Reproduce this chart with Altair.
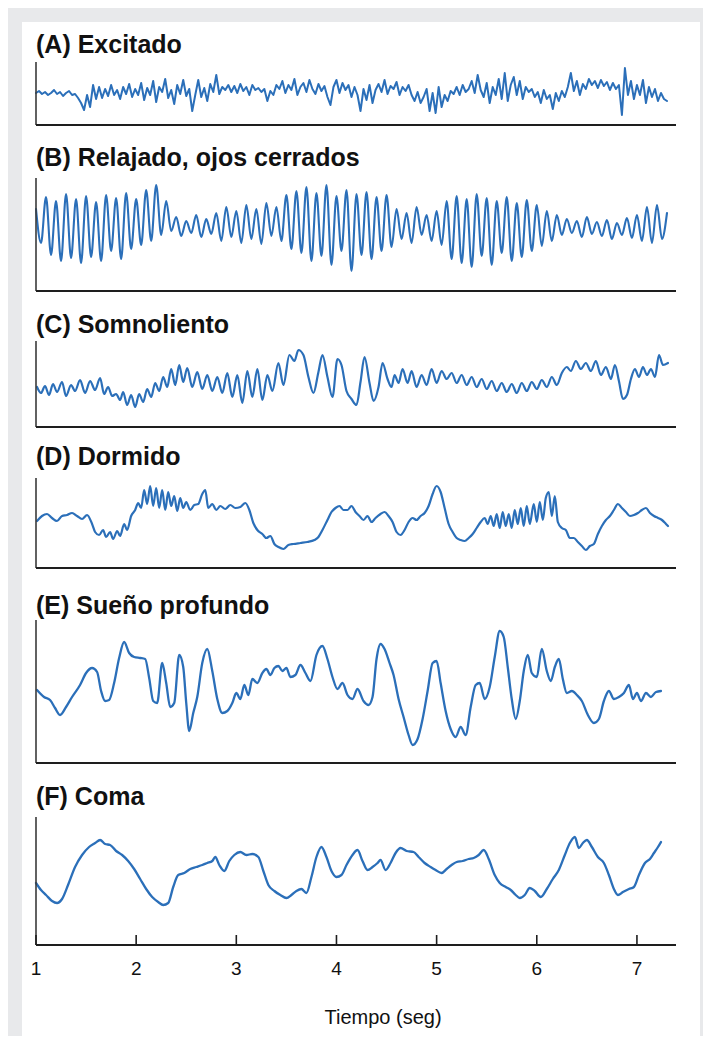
import altair as alt
import pandas as pd

# ---------------- data ----------------
TITLES = ["(A) Excitado", "(B) Relajado, ojos cerrados", "(C) Somnoliento",
          "(D) Dormido", "(E) Sueño profundo", "(F) Coma"]
TICKS = [1, 2, 3, 4, 5, 6, 7]
X_LABEL = "Tiempo (seg)"
AXIS_START = 1.0
AXIS_END = 7.39

# (A) Excitado
A_T = [1.00, 1.03, 1.06, 1.09, 1.12, 1.15, 1.18, 1.21, 1.24, 1.27,
       1.30, 1.33, 1.36, 1.39, 1.42, 1.45, 1.48, 1.51, 1.54, 1.57,
       1.60, 1.63, 1.66, 1.69, 1.72, 1.75, 1.78, 1.81, 1.84, 1.87,
       1.90, 1.93, 1.96, 1.99, 2.02, 2.05, 2.08, 2.11, 2.14, 2.17,
       2.20, 2.23, 2.26, 2.29, 2.32, 2.35, 2.38, 2.41, 2.44, 2.47,
       2.50, 2.53, 2.56, 2.59, 2.62, 2.65, 2.68, 2.71, 2.74, 2.77,
       2.80, 2.83, 2.86, 2.89, 2.92, 2.95, 2.98, 3.01, 3.04, 3.07,
       3.10, 3.13, 3.16, 3.19, 3.22, 3.25, 3.28, 3.31, 3.34, 3.37,
       3.40, 3.43, 3.46, 3.49, 3.52, 3.55, 3.58, 3.61, 3.64, 3.67,
       3.70, 3.73, 3.76, 3.79, 3.82, 3.85, 3.88, 3.91, 3.94, 3.97,
       4.00, 4.03, 4.06, 4.09, 4.12, 4.15, 4.18, 4.21, 4.24, 4.27,
       4.30, 4.33, 4.36, 4.39, 4.42, 4.45, 4.48, 4.51, 4.54, 4.57,
       4.60, 4.63, 4.66, 4.69, 4.72, 4.75, 4.78, 4.81, 4.84, 4.87,
       4.90, 4.93, 4.96, 4.99, 5.02, 5.05, 5.08, 5.11, 5.14, 5.17,
       5.20, 5.23, 5.26, 5.29, 5.32, 5.35, 5.38, 5.41, 5.44, 5.47,
       5.50, 5.53, 5.56, 5.59, 5.62, 5.65, 5.68, 5.71, 5.74, 5.77,
       5.80, 5.83, 5.86, 5.89, 5.92, 5.95, 5.98, 6.01, 6.04, 6.07,
       6.10, 6.13, 6.16, 6.19, 6.22, 6.25, 6.28, 6.31, 6.34, 6.37,
       6.40, 6.43, 6.46, 6.49, 6.52, 6.55, 6.58, 6.61, 6.64, 6.67,
       6.70, 6.73, 6.76, 6.79, 6.82, 6.85, 6.88, 6.91, 6.94, 6.97,
       7.00, 7.03, 7.06, 7.09, 7.12, 7.15, 7.18, 7.21, 7.24, 7.27,
       7.30]
A_V = [32, 34, 31, 33, 30, 32, 35, 31, 33, 29, 32, 34, 30, 31, 27,
       22, 15, 30, 18, 40, 26,
       38, 27, 36, 29, 40, 30, 35, 26, 38, 31, 41, 28, 36, 30,
       42, 25, 37, 30, 44, 23, 38, 33, 46, 27, 35, 21, 40, 31, 45, 29,
       36, 14, 30, 45, 28, 37, 24, 41, 33, 50, 31, 38, 35, 40,
       33, 39, 32, 41, 34, 38, 30, 40, 35, 37, 33,
       36, 24, 34, 30, 40, 36,
       44, 32, 40, 35, 46, 30, 38, 42, 33, 45, 36, 31, 41, 34, 39, 28,
       20, 38, 45, 32, 42, 35, 40, 28, 38,
       30, 14, 36, 25, 40, 22, 35,
       41, 33, 45, 31, 39, 36, 43, 30, 38, 34, 40,
       30, 24, 33, 22, 28,
       36, 14, 32, 12, 38, 18, 30, 24,
       34, 31, 38, 30, 40, 33, 36, 44, 32, 50, 35,
       28, 42, 22, 38, 30, 46, 26, 52, 24, 40, 48, 30, 44, 26, 38, 33,
       36, 28, 33, 22, 35, 26, 30, 16, 32, 24, 34, 28, 38,
       52, 34, 44, 30, 41, 36, 46,
       40, 44, 37, 45, 39, 43, 35, 42, 36, 40,
       10, 57, 30, 44,
       26, 40, 30, 45, 22, 38, 28, 36, 24,
       32, 26, 24]

# (B) Relajado, ojos cerrados
B_T = [1.00, 1.05, 1.10, 1.15, 1.20, 1.25, 1.30, 1.35, 1.40, 1.45,
       1.50, 1.55, 1.60, 1.65, 1.70, 1.75, 1.80, 1.85, 1.90, 1.95,
       2.00, 2.05, 2.10, 2.15, 2.20, 2.25, 2.30, 2.35, 2.40, 2.45,
       2.50, 2.55, 2.60, 2.65, 2.70, 2.75, 2.80, 2.85, 2.90, 2.95,
       3.00, 3.05, 3.10, 3.15, 3.20, 3.25, 3.30, 3.35, 3.40, 3.45,
       3.50, 3.55, 3.60, 3.65, 3.70, 3.75, 3.80, 3.85, 3.90, 3.95,
       4.00, 4.05, 4.10, 4.15, 4.20, 4.25, 4.30, 4.35, 4.40, 4.45,
       4.50, 4.55, 4.60, 4.65, 4.70, 4.75, 4.80, 4.85, 4.90, 4.95,
       5.00, 5.05, 5.10, 5.15, 5.20, 5.25, 5.30, 5.35, 5.40, 5.45,
       5.50, 5.55, 5.60, 5.65, 5.70, 5.75, 5.80, 5.85, 5.90, 5.95,
       6.00, 6.05, 6.10, 6.15, 6.20, 6.25, 6.30, 6.35, 6.40, 6.45,
       6.50, 6.55, 6.60, 6.65, 6.70, 6.75, 6.80, 6.85, 6.90, 6.95,
       7.00, 7.05, 7.10, 7.15, 7.20, 7.25, 7.30]
B_V = [82, 48, 94, 36, 90, 30, 97, 33, 92, 28, 95, 34, 89, 30, 96, 40, 93, 32, 98, 42, 92,
       46, 101, 50, 106, 56, 90,
       60, 74, 55, 70, 58, 76, 54, 72, 57, 78,
       50, 84, 54, 80, 48, 86, 52, 82, 47, 88, 55, 84, 50,
       96, 42, 100, 38, 104, 30, 98, 35, 106, 26, 95, 40, 101, 20, 97, 36, 99, 32, 94, 40, 96, 44,
       82, 52, 78, 48, 84, 56, 76, 50, 80, 46,
       90, 32, 95, 28, 92, 24, 97, 35, 93, 26, 90, 38, 94, 30, 88, 34, 91, 40, 86,
       45, 80, 50, 76,
       56, 72, 58, 70, 54, 74, 57, 69, 55, 71, 52, 68, 56, 73, 53, 76, 50,
       84, 48, 86, 52, 78]

# (C) Somnoliento
C_T = [1.01, 1.05, 1.09, 1.13, 1.17, 1.21, 1.26, 1.30, 1.35, 1.39, 1.44, 1.49, 1.54, 1.59,
       1.64, 1.68, 1.72, 1.76, 1.80, 1.84, 1.87, 1.91, 1.95, 1.99, 2.03, 2.07, 2.11, 2.15,
       2.19, 2.23, 2.27, 2.31, 2.35, 2.39, 2.43, 2.47, 2.51, 2.56, 2.61, 2.66, 2.71, 2.76,
       2.81, 2.86, 2.91, 2.96, 3.01, 3.06, 3.11, 3.16, 3.21, 3.26, 3.31, 3.36, 3.42, 3.47,
       3.53, 3.58, 3.62, 3.67, 3.72, 3.77, 3.82, 3.86, 3.91, 3.96, 4.01, 4.05, 4.10, 4.15,
       4.20, 4.24, 4.28, 4.33, 4.37, 4.42, 4.46, 4.51, 4.55, 4.58, 4.62, 4.66, 4.71, 4.75,
       4.80, 4.85, 4.90, 4.95, 5.00, 5.05, 5.10, 5.15, 5.20, 5.25, 5.30, 5.35, 5.40, 5.45,
       5.50, 5.55, 5.60, 5.65, 5.70, 5.75, 5.80, 5.85, 5.90, 5.95, 6.00, 6.05, 6.10, 6.15,
       6.20, 6.25, 6.30, 6.34, 6.39, 6.44, 6.49, 6.54, 6.59, 6.64, 6.69, 6.74, 6.78, 6.82,
       6.86, 6.90, 6.94, 6.98, 7.02, 7.06, 7.10, 7.14, 7.18, 7.22, 7.26, 7.31]
C_V = [40, 34, 41, 32, 43, 35, 45, 31, 42, 36, 47, 34, 46, 37,
       49, 33, 40, 31, 33, 27, 35, 22, 32, 20, 33, 25, 38, 30,
       44, 36, 50, 40, 58, 42, 62, 45, 59, 40, 55, 38, 52, 36,
       50, 34, 54, 30, 52, 24, 56, 30, 58, 27, 52, 36, 64, 42,
       72, 66, 77, 72, 50, 34, 55, 72, 50, 30, 68, 62, 36, 28,
       22, 45, 70, 44, 26, 40, 64, 48, 40, 52, 44, 58, 44, 56,
       40, 52, 42, 58, 44, 56, 48, 54, 44, 52, 42, 50, 40, 48,
       38, 46, 36, 44, 35, 43, 34, 44, 36, 45, 38, 47, 40, 50,
       42, 54, 60, 56, 66, 58, 64, 56, 66, 52, 60, 48, 62, 46,
       28, 32, 48, 58, 50, 60, 52, 58, 50, 72, 62, 64]

# (D) Dormido
D_T = [1.01, 1.06, 1.11, 1.16, 1.21, 1.26, 1.31, 1.36, 1.41, 1.46, 1.51, 1.56, 1.59, 1.63,
       1.67, 1.70, 1.74, 1.77, 1.81, 1.84, 1.88, 1.91, 1.95, 1.99, 2.02, 2.05, 2.08, 2.11,
       2.14, 2.17, 2.20, 2.23, 2.26, 2.29, 2.32, 2.35, 2.38, 2.41, 2.44, 2.47, 2.50, 2.54,
       2.58, 2.62, 2.66, 2.69, 2.72, 2.76, 2.80, 2.84, 2.89, 2.94, 2.99, 3.04, 3.09, 3.13,
       3.17, 3.21, 3.26, 3.30, 3.34, 3.38, 3.42, 3.47, 3.52, 3.57, 3.64, 3.71, 3.78, 3.82,
       3.86, 3.91, 3.95, 3.99, 4.03, 4.07, 4.11, 4.15, 4.19, 4.23, 4.27, 4.31, 4.35, 4.39,
       4.44, 4.48, 4.52, 4.56, 4.60, 4.64, 4.68, 4.72, 4.76, 4.80, 4.84, 4.88, 4.92, 4.96,
       5.00, 5.04, 5.08, 5.12, 5.16, 5.20, 5.24, 5.28, 5.32, 5.36, 5.40, 5.44, 5.48, 5.51,
       5.54, 5.57, 5.60, 5.63, 5.66, 5.69, 5.72, 5.75, 5.78, 5.81, 5.84, 5.87, 5.90, 5.93,
       5.97, 6.00, 6.03, 6.06, 6.09, 6.12, 6.15, 6.18, 6.21, 6.25, 6.29, 6.33, 6.37, 6.41,
       6.45, 6.49, 6.53, 6.57, 6.61, 6.65, 6.69, 6.73, 6.77, 6.81, 6.85, 6.89, 6.93, 6.97,
       7.01, 7.05, 7.09, 7.13, 7.17, 7.21, 7.25, 7.29, 7.31]
D_V = [47, 52, 54, 50, 47, 52, 53, 55, 52, 49, 53, 44, 36, 33,
       38, 31, 36, 29, 37, 32, 44, 38, 52, 58, 65, 60, 78, 64,
       82, 62, 80, 60, 78, 58, 76, 62, 72, 57, 70, 60, 66, 58,
       63, 64, 74, 78, 60, 64, 58, 62, 59, 63, 60, 61, 65, 58,
       45, 38, 34, 30, 32, 24, 21, 19, 23, 24, 25, 26, 28, 31,
       38, 48, 56, 60, 62, 58, 58, 62, 56, 52, 48, 52, 46, 50,
       54, 56, 52, 46, 36, 33, 38, 46, 50, 48, 52, 55, 62, 74,
       82, 76, 60, 44, 36, 30, 28, 27, 30, 34, 40, 46, 50, 44,
       52, 42, 54, 40, 56, 42, 54, 40, 58, 44, 60, 42, 62, 44,
       64, 46, 66, 48, 70, 76, 52, 72, 46, 40, 38, 30, 30, 26,
       22, 18, 22, 24, 34, 42, 48, 52, 58, 64, 60, 56, 52, 53,
       55, 58, 60, 55, 52, 50, 48, 44, 42]

# (E) Sueño profundo
E_T = [1.01, 1.08, 1.14, 1.19, 1.24, 1.30, 1.36, 1.44, 1.50, 1.56, 1.61, 1.65, 1.69, 1.73,
       1.78, 1.83, 1.88, 1.93, 1.98, 2.04, 2.09, 2.13, 2.17, 2.21, 2.26, 2.30, 2.34, 2.38,
       2.43, 2.47, 2.50, 2.53, 2.57, 2.61, 2.66, 2.71, 2.76, 2.81, 2.86, 2.91, 2.96, 3.00,
       3.04, 3.08, 3.12, 3.16, 3.21, 3.26, 3.30, 3.34, 3.38, 3.42, 3.46, 3.50, 3.54, 3.59,
       3.64, 3.69, 3.74, 3.80, 3.86, 3.91, 3.96, 4.01, 4.06, 4.11, 4.16, 4.21, 4.27, 4.32,
       4.36, 4.40, 4.44, 4.48, 4.53, 4.57, 4.62, 4.67, 4.72, 4.76, 4.81, 4.86, 4.91, 4.96,
       5.00, 5.04, 5.09, 5.14, 5.19, 5.24, 5.29, 5.34, 5.39, 5.43, 5.48, 5.53, 5.58, 5.63,
       5.67, 5.71, 5.75, 5.79, 5.83, 5.87, 5.91, 5.95, 6.00, 6.05, 6.10, 6.14, 6.18, 6.22,
       6.26, 6.30, 6.35, 6.40, 6.45, 6.51, 6.57, 6.62, 6.67, 6.72, 6.77, 6.82, 6.87, 6.92,
       6.96, 7.00, 7.04, 7.09, 7.14, 7.19, 7.24]
E_V = [73, 66, 63, 55, 48, 56, 66, 78, 90, 95, 91, 72, 62, 63,
       80, 105, 121, 110, 106, 105, 104, 85, 62, 60, 100, 80, 56, 60,
       108, 96, 60, 32, 50, 66, 100, 114, 92, 64, 50, 52, 60, 70,
       64, 78, 68, 84, 80, 90, 94, 88, 95, 97, 92, 95, 86, 88,
       98, 90, 82, 108, 117, 104, 86, 74, 80, 68, 64, 74, 62, 58,
       66, 104, 119, 114, 100, 88, 64, 46, 28, 18, 24, 44, 72, 100,
       102, 80, 52, 34, 26, 36, 28, 56, 78, 80, 64, 76, 106, 132,
       126, 96, 64, 44, 62, 92, 108, 90, 86, 114, 92, 82, 96, 104,
       84, 70, 72, 68, 62, 48, 40, 44, 62, 72, 64, 66, 70, 78,
       64, 70, 62, 70, 66, 71, 72]

# (F) Coma
F_T = [1.00, 1.05, 1.10, 1.16, 1.21, 1.26, 1.32, 1.39, 1.46, 1.53, 1.59, 1.64, 1.69, 1.74,
       1.80, 1.86, 1.92, 1.98, 2.04, 2.10, 2.16, 2.22, 2.27, 2.32, 2.37, 2.42, 2.48, 2.54,
       2.60, 2.66, 2.71, 2.76, 2.79, 2.83, 2.88, 2.93, 2.98, 3.04, 3.10, 3.16, 3.22, 3.27,
       3.32, 3.38, 3.44, 3.50, 3.55, 3.60, 3.65, 3.70, 3.75, 3.80, 3.85, 3.90, 3.95, 4.00,
       4.05, 4.10, 4.16, 4.21, 4.26, 4.31, 4.36, 4.41, 4.44, 4.49, 4.54, 4.59, 4.64, 4.70,
       4.77, 4.82, 4.88, 4.94, 4.99, 5.05, 5.10, 5.15, 5.20, 5.26, 5.32, 5.37, 5.42, 5.47,
       5.52, 5.58, 5.63, 5.69, 5.74, 5.79, 5.83, 5.88, 5.93, 5.98, 6.04, 6.10, 6.16, 6.22,
       6.28, 6.33, 6.38, 6.42, 6.46, 6.50, 6.55, 6.61, 6.67, 6.72, 6.77, 6.81, 6.86, 6.92,
       6.97, 7.02, 7.08, 7.13, 7.17, 7.21, 7.24]
F_V = [62, 55, 50, 44, 42, 46, 60, 78, 90, 98, 102, 105, 101, 100,
       94, 90, 84, 76, 66, 56, 48, 43, 40, 42, 58, 70, 72, 76,
       78, 80, 82, 84, 88, 80, 74, 84, 90, 93, 90, 91, 88, 74,
       60, 54, 50, 47, 50, 54, 56, 52, 68, 88, 98, 88, 74, 68,
       70, 80, 90, 95, 84, 75, 78, 82, 85, 75, 82, 92, 97, 94,
       93, 88, 82, 78, 75, 72, 76, 80, 83, 84, 86, 87, 90, 95,
       86, 70, 62, 58, 55, 50, 47, 50, 57, 54, 48, 56, 66, 75,
       90, 102, 108, 97, 102, 105, 98, 88, 82, 70, 56, 50, 53, 56,
       58, 70, 82, 86, 92, 98, 103]

# ---------------- layout / styles (view pixels) ----------------
VIEW_W, VIEW_H = 678, 1014
# (bottom px, top px) of each panel's y axis, and the title's vertical centre
LAYOUT = [(103, 40, 23), (269, 156, 136), (405, 319, 303),
          (546, 456, 435), (741, 598, 584), (923, 795, 775)]
TRACE_COLOR = "#2b6fb9"
AXIS_COLOR = "#1e1e1e"
FONT = "Liberation Sans"

XS = alt.Scale(domain=[AXIS_START, AXIS_END], range=[14, 654], nice=False, zero=False)

SERIES = [(A_T, A_V, "linear", 2.0), (B_T, B_V, "monotone", 2.1),
          (C_T, C_V, "monotone", 2.2), (D_T, D_V, "monotone", 2.2),
          (E_T, E_V, "monotone", 2.3), (F_T, F_V, "monotone", 2.3)]


def panel(idx):
    t, v, interp, sw = SERIES[idx]
    bottom, top, _ = LAYOUT[idx]
    h = bottom - top
    ys = alt.Scale(domain=[0, h], range=[bottom, top], nice=False, zero=False)
    n = min(len(t), len(v))
    df = pd.DataFrame({"t": t[:n], "v": v[:n]})
    line = alt.Chart(df).mark_line(color=TRACE_COLOR, strokeWidth=sw, interpolate=interp,
                                   strokeJoin="round", strokeCap="round").encode(
        x=alt.X("t:Q", scale=XS, axis=None),
        y=alt.Y("v:Q", scale=ys, axis=None),
    )
    frame = pd.DataFrame({"x0": [AXIS_START], "x1": [AXIS_END], "y0": [0], "y1": [h]})
    vline = alt.Chart(frame).mark_rule(color="#3a3a3a", strokeWidth=1.6).encode(
        x=alt.X("x0:Q", scale=XS, axis=None),
        y=alt.Y("y0:Q", scale=ys, axis=None),
        y2="y1:Q",
    )
    hline = alt.Chart(frame).mark_rule(color=AXIS_COLOR, strokeWidth=2).encode(
        x=alt.X("x0:Q", scale=XS, axis=None),
        x2="x1:Q",
        y=alt.Y("y0:Q", scale=ys, axis=None),
    )
    parts = [line, vline, hline]
    if idx == len(SERIES) - 1:
        tk = pd.DataFrame({"tick": TICKS})
        tk["y0"] = 0
        tk["y1"] = 10
        ticks = alt.Chart(tk).mark_rule(color=AXIS_COLOR, strokeWidth=1.6).encode(
            x=alt.X("tick:Q", scale=XS, axis=None),
            y=alt.Y("y0:Q", scale=ys, axis=None),
            y2="y1:Q",
        )
        parts.append(ticks)
    return alt.layer(*parts)


layers = [panel(i) for i in range(len(SERIES))]

for i, title in enumerate(TITLES):
    layers.append(
        alt.Chart(pd.DataFrame({"label": [title]})).mark_text(
            align="left", baseline="middle", font=FONT, fontSize=25, fontWeight="bold",
            color="#111111").encode(
            text="label:N", x=alt.value(14), y=alt.value(LAYOUT[i][2]))
    )

layers.append(
    alt.Chart(pd.DataFrame({"tick": TICKS})).mark_text(
        align="center", baseline="middle", font=FONT, fontSize=19, color="#111111").encode(
        text=alt.Text("tick:Q", format="d"),
        x=alt.X("tick:Q", scale=XS, axis=None),
        y=alt.value(947))
)
layers.append(
    alt.Chart(pd.DataFrame({"label": [X_LABEL]})).mark_text(
        align="center", baseline="middle", font=FONT, fontSize=20, color="#111111").encode(
        text="label:N", x=alt.value(361), y=alt.value(996))
)

chart = alt.layer(*layers).resolve_scale(y="independent").properties(
    width=VIEW_W, height=VIEW_H,
    autosize=alt.AutoSizeParams(type="none"),
    padding={"left": 14, "top": 14, "right": 3, "bottom": 0},
    background="#e8e9eb",
).configure_view(fill="white", strokeWidth=0)

chart.save("out.html", embed_options={"renderer": "svg", "actions": False})
